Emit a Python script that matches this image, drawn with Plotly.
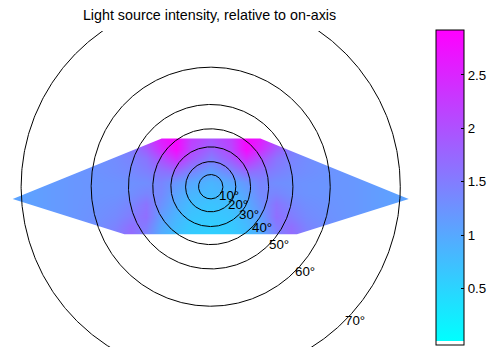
import numpy as np
import plotly.graph_objects as go

# ---- data (tan-plane coordinates, values = relative intensity) ----
grid_x = [-2.87, -2.46, -2.03, -1.67, -1.38, -1.16, -0.94, -0.72, -0.51, -0.29, 0.0,
          0.29, 0.51, 0.72, 0.94, 1.16, 1.38, 1.67, 2.03, 2.46, 2.87]
grid_y_top_down = [0.70, 0.55, 0.41, 0.23, 0.07, -0.09, -0.26, -0.43, -0.58, -0.70]
intensity_top_down = [
    [1.05, 1.12, 1.20, 1.30, 1.45, 1.65, 2.10, 2.60, 2.85, 2.20, 1.95, 2.20, 2.85, 2.60, 2.10, 1.65, 1.45, 1.30, 1.20, 1.12, 1.05],
    [1.05, 1.12, 1.20, 1.27, 1.35, 1.50, 1.85, 2.40, 2.80, 2.10, 1.75, 2.10, 2.80, 2.40, 1.85, 1.50, 1.35, 1.27, 1.20, 1.12, 1.05],
    [1.05, 1.12, 1.20, 1.25, 1.32, 1.42, 1.60, 2.00, 2.40, 1.90, 1.50, 1.90, 2.40, 2.00, 1.60, 1.42, 1.32, 1.25, 1.20, 1.12, 1.05],
    [1.05, 1.12, 1.20, 1.25, 1.30, 1.35, 1.45, 1.60, 1.70, 1.40, 1.10, 1.40, 1.70, 1.60, 1.45, 1.35, 1.30, 1.25, 1.20, 1.12, 1.05],
    [1.05, 1.12, 1.20, 1.23, 1.25, 1.27, 1.30, 1.40, 1.20, 1.00, 0.85, 1.00, 1.20, 1.40, 1.30, 1.27, 1.25, 1.23, 1.20, 1.12, 1.05],
    [1.05, 1.12, 1.20, 1.23, 1.25, 1.30, 1.40, 1.35, 1.05, 0.85, 0.78, 0.85, 1.05, 1.35, 1.40, 1.30, 1.25, 1.23, 1.20, 1.12, 1.05],
    [1.05, 1.12, 1.20, 1.25, 1.30, 1.40, 1.60, 1.25, 0.95, 0.75, 0.68, 0.75, 0.95, 1.25, 1.60, 1.40, 1.30, 1.25, 1.20, 1.12, 1.05],
    [1.05, 1.12, 1.20, 1.27, 1.35, 1.50, 1.65, 1.10, 0.85, 0.68, 0.62, 0.68, 0.85, 1.10, 1.65, 1.50, 1.35, 1.27, 1.20, 1.12, 1.05],
    [1.05, 1.12, 1.20, 1.30, 1.42, 1.65, 1.50, 1.00, 0.78, 0.62, 0.57, 0.62, 0.78, 1.00, 1.50, 1.65, 1.42, 1.30, 1.20, 1.12, 1.05],
    [1.05, 1.12, 1.20, 1.32, 1.47, 1.70, 1.40, 0.95, 0.72, 0.60, 0.55, 0.60, 0.72, 0.95, 1.40, 1.70, 1.47, 1.32, 1.20, 1.12, 1.05],
]
# coverage boundary (tan-plane): top-left, top-right, right tip, bottom-right, bottom-left, left tip
edge_x = [-0.71, 0.72, 2.87, 1.25, -1.25, -2.87]
edge_y = [0.70, 0.70, -0.18, -0.69, -0.69, -0.18]
ring_angles = [10, 20, 30, 40, 50, 60, 70]
cbar_ticks = [0.5, 1, 1.5, 2, 2.5]
title_text = "Light source intensity, relative to on-axis"

FONT = "Liberation Sans, Arial, Helvetica, sans-serif"
W, H = 492, 347

fig = go.Figure()

grid_y = grid_y_top_down[::-1]
z = intensity_top_down[::-1]

cmin, cmax = -0.03, 2.92
cool = [[0.0, "#ffffff"], [0.0135, "#ffffff"], [0.0137, "#00ffff"], [1.0, "#ff00ff"]]

cb_x0, cb_thick = 436 / W, 28
cb_yc, cb_len = 1 - 187.5 / H, 315 / H

fig.add_trace(go.Heatmap(
    x=grid_x, y=grid_y, z=z, zsmooth="best", colorscale=cool,
    zmin=cmin, zmax=cmax, hoverinfo="skip",
    colorbar=dict(
        x=cb_x0, xanchor="left", xpad=0, ypad=0,
        y=cb_yc, yanchor="middle", len=cb_len, lenmode="fraction",
        thickness=cb_thick, thicknessmode="pixels",
        outlinewidth=1, outlinecolor="black",
        tickvals=cbar_ticks, ticktext=[str(t) for t in cbar_ticks],
        ticks="inside", ticklen=3, tickcolor="black", tickwidth=1,
        tickfont=dict(family=FONT, size=13.3, color="black"),
    ),
))

# matching tick marks on the left inner edge of the colour bar
for t in cbar_ticks:
    yp = (cb_yc - cb_len / 2) + (t - cmin) / (cmax - cmin) * cb_len
    fig.add_shape(type="line", xref="paper", yref="paper",
                  x0=cb_x0, x1=cb_x0 + 3 / W, y0=yp, y1=yp,
                  line=dict(color="black", width=1))

# white mask outside coverage boundary
BX, BY = 3.4, 1.1
tl, tr, rt, br, bl, lt = list(zip(edge_x, edge_y))
top_poly = [(-BX, BY), (BX, BY), (BX, rt[1]), rt, tr, tl, lt, (-BX, lt[1])]
bot_poly = [(-BX, lt[1]), lt, bl, br, rt, (BX, rt[1]), (BX, -BY), (-BX, -BY)]
for poly in (top_poly, bot_poly):
    px = [p[0] for p in poly] + [poly[0][0]]
    py = [p[1] for p in poly] + [poly[0][1]]
    fig.add_trace(go.Scatter(x=px, y=py, mode="lines", fill="toself",
                             fillcolor="white", line=dict(width=0, color="white"),
                             hoverinfo="skip", showlegend=False))

# rings of constant off-axis angle (gnomonic: r = tan(theta))
phi = np.linspace(0, 2 * np.pi, 721)
for a in ring_angles:
    r = np.tan(np.radians(a))
    fig.add_trace(go.Scatter(x=r * np.cos(phi), y=r * np.sin(phi), mode="lines",
                             line=dict(color="black", width=1),
                             hoverinfo="skip", showlegend=False))
    fig.add_annotation(x=r * np.cos(np.radians(-45)), y=r * np.sin(np.radians(-45)),
                       text=f"{a}°", showarrow=False,
                       xanchor="left", yanchor="middle", xshift=-2,
                       font=dict(family=FONT, size=13.3, color="black"))

fig.update_layout(
    width=W, height=H,
    margin=dict(l=0, r=0, t=0, b=0),
    paper_bgcolor="white", plot_bgcolor="white",
    showlegend=False,
    title=dict(text=title_text, x=209.5 / W, xanchor="center",
               y=1 - 14.5 / H, yanchor="middle",
               font=dict(family=FONT, size=14.3, color="black")),
    xaxis=dict(domain=[0, 420 / W], range=[-210.7 / 69, (420 - 210.7) / 69],
               visible=False, fixedrange=True),
    yaxis=dict(domain=[0, 316 / H], range=[-(347 - 186.7) / 69, (186.7 - 31) / 69],
               visible=False, fixedrange=True),
)

fig.write_html("out.html", config={"displayModeBar": False},
               post_script="document.body.style.margin='0';document.body.style.overflow='hidden';")
